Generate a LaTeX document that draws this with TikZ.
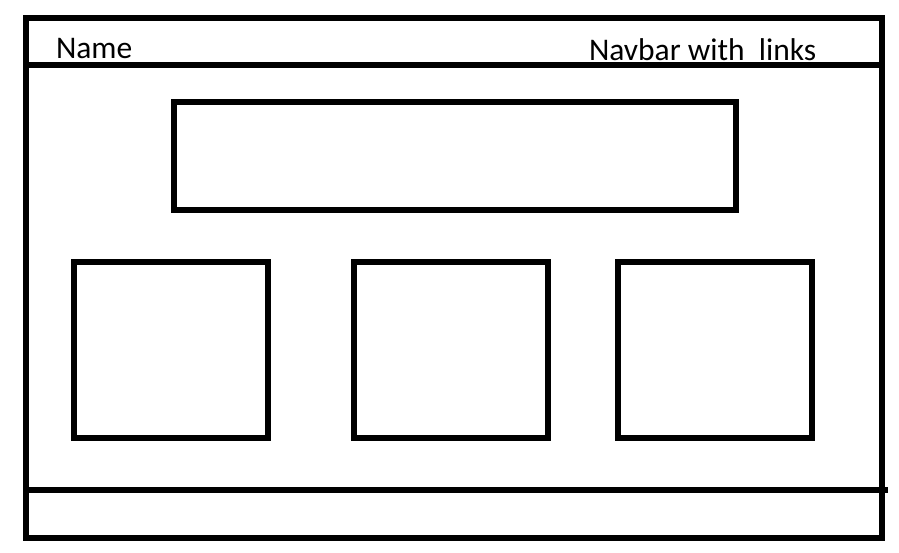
\documentclass[tikz,border=0pt]{standalone}
\usepackage{fontspec}
\setmainfont{Carlito}
\begin{document}
\begin{tikzpicture}[x=1pt,y=1pt]
\definecolor{fillColor}{RGB}{255,255,255}
\definecolor{drawColor}{RGB}{0,0,0}
\tikzset{wire/.style={draw=drawColor,line width=6pt,line join=miter},
  label/.style={text=drawColor,anchor=base west,inner sep=0pt,outer sep=0pt,font=\fontsize{31.5}{38}\selectfont}}
\path[use as bounding box,fill=fillColor] (0,0) rectangle (899,553);

% page frame
\path[wire] (26,535) rectangle (881.5,15);

\path[wire] (26,487.5) --
	(881.5,487.5);

\path[wire] (26,63) --
	(888,63);

% banner
\path[wire] (174,451) rectangle (736,343);

% cards
\path[wire] (74,291) rectangle (268,115);

\path[wire] (354,291) rectangle (548,115);

\path[wire] (618,291) rectangle (812,115);

\node[label] (name) at (56,494) {Name};

\node[label] (navbar) at (589,492) {Navbar with\ \ links};
\end{tikzpicture}
\end{document}
